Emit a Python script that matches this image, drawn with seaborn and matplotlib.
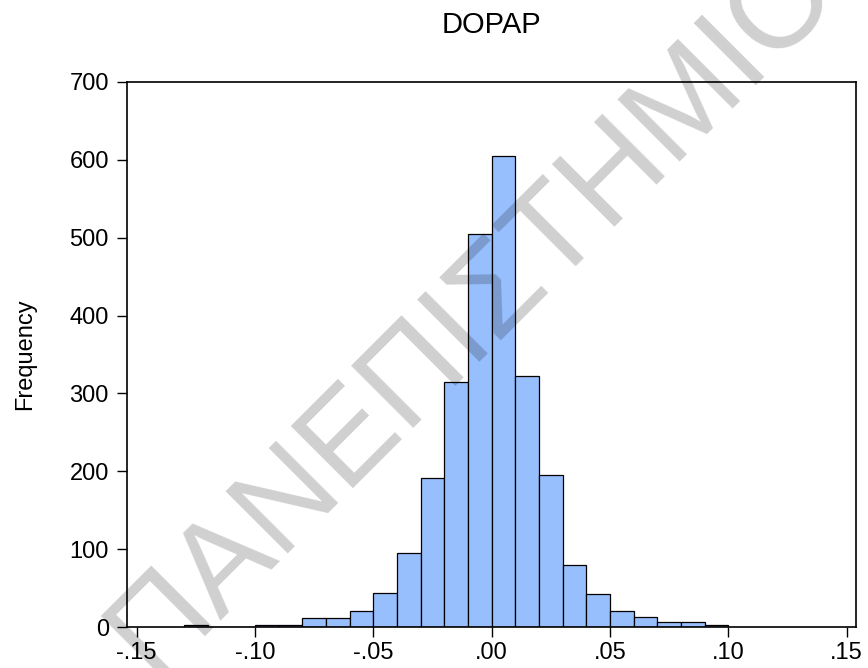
import numpy as np
import pandas as pd
import matplotlib
matplotlib.use("Agg")
import matplotlib.pyplot as plt
import seaborn as sns

# ---- data ----
bin_left = [-0.13, -0.12, -0.11, -0.10, -0.09, -0.08, -0.07, -0.06, -0.05, -0.04,
            -0.03, -0.02, -0.01, 0.00, 0.01, 0.02, 0.03, 0.04, 0.05, 0.06,
            0.07, 0.08, 0.09]
counts = [2, 0, 0, 3, 3, 11, 11, 20, 44, 95,
          192, 315, 505, 605, 322, 195, 80, 42, 20, 13,
          7, 7, 2]
bin_width = 0.01
x_ticks = [-0.15, -0.10, -0.05, 0.00, 0.05, 0.10, 0.15]
x_tick_labels = ["-.15", "-.10", "-.05", ".00", ".05", ".10", ".15"]
y_ticks = [0, 100, 200, 300, 400, 500, 600, 700]
title = "DOPAP"
ylabel = "Frequency"
watermark = "ΠΑΝΕΠΙΣΤΗΜΙΟ"

sns.set_theme(style="white")
plt.rcParams["font.family"] = ["Liberation Sans", "DejaVu Sans"]

centers = [round(b + bin_width / 2, 4) for b in bin_left]
edges = [round(b, 4) for b in bin_left] + [round(bin_left[-1] + bin_width, 4)]
df = pd.DataFrame({"value": centers, "count": counts})

fig = plt.figure(figsize=(8.68, 6.68), dpi=100)
ax = fig.add_axes([127 / 868, 1 - 627 / 668, (855.7 - 127) / 868, (627 - 82) / 668])

sns.histplot(data=df, x="value", weights="count", bins=edges, ax=ax,
             color="#97BEFD", alpha=1.0, edgecolor="black", linewidth=0.9)

ax.set_xlim(-0.1541, 0.1538)
ax.set_ylim(0, 700)
ax.set_xticks(x_ticks)
ax.set_xticklabels(x_tick_labels)
ax.set_yticks(y_ticks)
ax.tick_params(axis="both", direction="out", length=7, width=1, color="black",
               labelsize=17, labelcolor="black", bottom=True, left=True)
ax.tick_params(axis="x", pad=4)
ax.tick_params(axis="y", pad=6)
ax.set_xlabel("")
ax.set_ylabel(ylabel, fontsize=17, labelpad=24, color="black")
ax.set_title(title, fontsize=21, pad=35, color="black")
for s in ax.spines.values():
    s.set_visible(True)
    s.set_color("black")
    s.set_linewidth(1.2)

# watermark
fig.text(0.545, 0.535, watermark, rotation=45, fontsize=92, color="black",
         alpha=0.19, ha="center", va="center", family=["Liberation Sans"],
         rotation_mode="anchor")

fig.savefig("out.png", dpi=100)
